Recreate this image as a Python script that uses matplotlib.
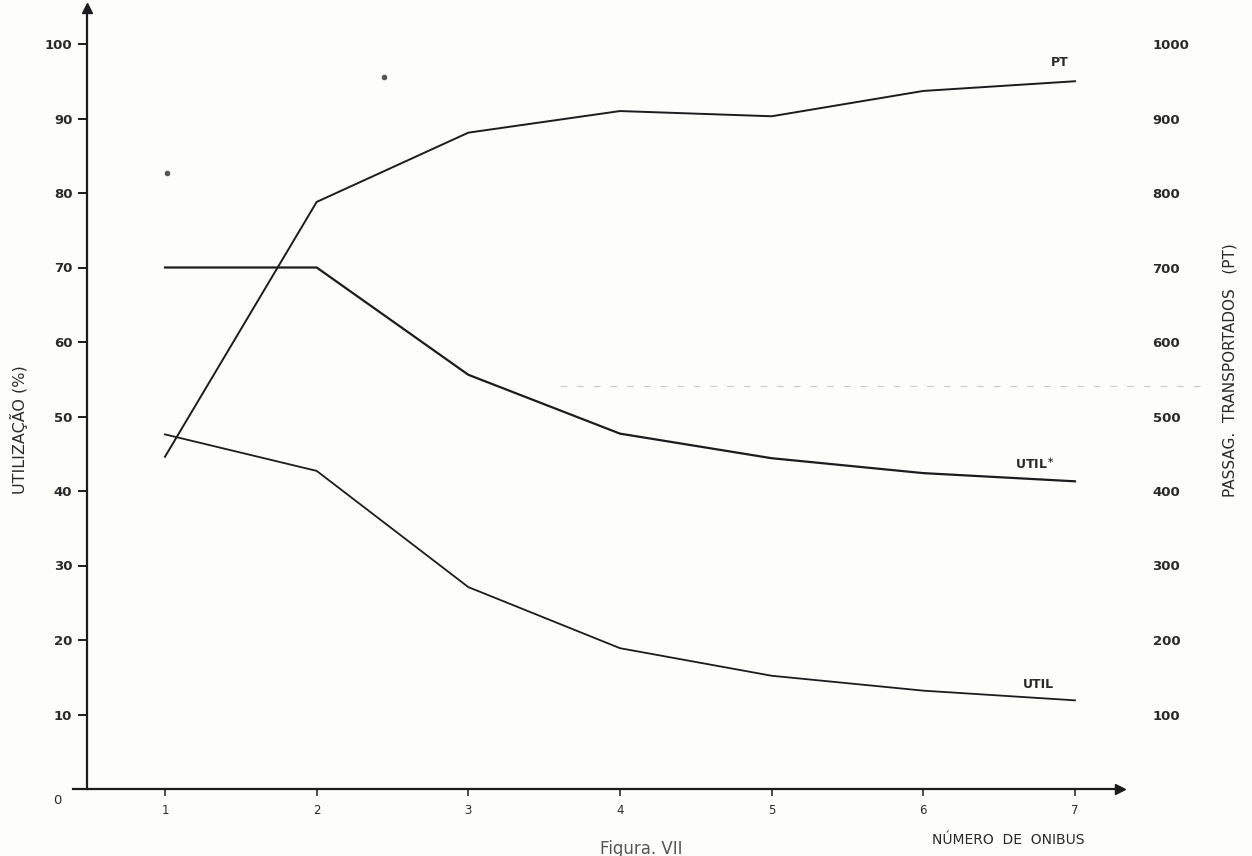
import matplotlib
matplotlib.use("Agg")
import matplotlib.pyplot as plt
from matplotlib.lines import Line2D

# Number of buses on the x axis
onibus = [1, 2, 3, 4, 5, 6, 7]
x_labels = ["1", "2", "3", "4", "5", "6", "7"]

# Utilisation series (%) on the left axis
util_star = [70.0, 70.0, 55.6, 47.7, 44.4, 42.4, 41.3]
util = [47.6, 42.7, 27.1, 18.9, 15.2, 13.2, 11.9]

# Passengers carried (PT) on the right axis
pt = [446, 788, 881, 910, 903, 937, 950]

left_ticks = [10, 20, 30, 40, 50, 60, 70, 80, 90, 100]
left_labels = ["10", "20", "30", "40", "50", "60", "70", "80", "90", "100"]
right_ticks = [100, 200, 300, 400, 500, 600, 700, 800, 900, 1000]
right_labels = ["100", "200", "300", "400", "500", "600", "700", "800", "900", "1000"]

W, H = 1252, 856
INK = "#1c1c1c"
TXT = "#2a2a2a"
PAPER = "#fdfdfa"

fig = plt.figure(figsize=(W / 100, H / 100), dpi=100, facecolor=PAPER)

# axes frame in pixel terms
x0_px, x1_px = 73, 1122
y_bottom_px, y_top_px = 789, 8
ax = fig.add_axes([x0_px / W, (H - y_bottom_px) / H,
                   (x1_px - x0_px) / W, (y_bottom_px - y_top_px) / H])
ax.set_facecolor("none")

px_per_unit = 151.67
xmin = 1 - (165 - x0_px) / px_per_unit
xmax = 7 + (x1_px - 1075) / px_per_unit
ymax = (y_bottom_px - y_top_px) / 7.45
ax.set_xlim(xmin, xmax)
ax.set_ylim(0, ymax)

yaxis_x = 1 - (165 - 87) / px_per_unit

for s in ("top", "right"):
    ax.spines[s].set_visible(False)
ax.spines["left"].set_position(("data", yaxis_x))
ax.spines["left"].set_color(INK)
ax.spines["left"].set_linewidth(1.6)
ax.spines["bottom"].set_color(INK)
ax.spines["bottom"].set_linewidth(1.6)

# arrow heads on both axes
ax.plot([yaxis_x], [ymax], marker="^", ms=7, color=INK, clip_on=False, zorder=5)
ax.plot([xmax - 2 / px_per_unit], [0], marker=">", ms=7, color=INK,
        clip_on=False, zorder=5)

# utilisation curves
ax.plot(onibus, util_star, color=INK, lw=1.6, solid_joinstyle="miter")
ax.plot(onibus, util, color=INK, lw=1.3, solid_joinstyle="miter")

ax.set_xticks(onibus)
ax.set_xticklabels(x_labels)
ax.tick_params(axis="x", direction="out", length=5, width=1.1, pad=6,
               labelsize=8.5, colors=INK, labelcolor=TXT)
ax.set_yticks(left_ticks)
ax.set_yticklabels(left_labels, fontweight="bold")
ax.tick_params(axis="y", direction="out", length=6.5, width=1.4, pad=4,
               labelsize=9.5, colors=INK, labelcolor=TXT)
ax.text(1 - (165 - 57) / px_per_unit, -1.5, "0", ha="center", va="center",
        fontsize=9.5, color=TXT, clip_on=False)

# passengers on a twin axis sharing the bus count
ax2 = ax.twinx()
ax2.set_ylim(0, ymax * 10)
for s in ax2.spines.values():
    s.set_visible(False)
ax2.plot(onibus, pt, color=INK, lw=1.4, solid_joinstyle="miter")
ax2.set_yticks(right_ticks)
ax2.set_yticklabels(right_labels, fontweight="bold")
ax2.tick_params(axis="y", length=0, pad=22, labelsize=9.5, labelcolor=TXT)

# curve names
ax.text(1 + (1060 - 165) / px_per_unit, (789 - 63) / 7.45, "PT",
        ha="center", va="center", fontsize=9, fontweight="bold", color=TXT)
ax.text(1 + (1035 - 165) / px_per_unit, (789 - 464) / 7.45, r"UTIL$^{\ast}$",
        ha="center", va="center", fontsize=9, fontweight="bold", color=TXT)
ax.text(1 + (1038 - 165) / px_per_unit, (789 - 685) / 7.45, "UTIL",
        ha="center", va="center", fontsize=9, fontweight="bold", color=TXT)

# axis titles and caption
fig.text(19 / W, 1 - 430 / H, "UTILIZAÇÃO (%)", rotation=90, ha="center",
         va="center", fontsize=11.5, color=TXT)
fig.text(1230 / W, 1 - 370 / H, "PASSAG.  TRANSPORTADOS   (PT)", rotation=90,
         ha="center", va="center", fontsize=11, color=TXT)
fig.text(1008 / W, 1 - 840 / H, "NÚMERO  DE  ONIBUS", ha="center", va="center",
         fontsize=10, color=TXT)
fig.text(641 / W, 1 - 849 / H, "Figura. VII", ha="center", va="center",
         fontsize=12, color="#555555")

# faint ruled mark and specks on the sheet
fig.add_artist(Line2D([560 / W, 1200 / W], [1 - 386 / H, 1 - 386 / H],
                      ls=(0, (6, 9)), color="#c9c9c9", lw=0.8))
for sx, sy in [(384, 77), (167, 173)]:
    fig.add_artist(Line2D([sx / W], [1 - sy / H], marker="o", ms=3,
                          color="#555555", lw=0))

fig.savefig("out.png", dpi=100, facecolor=PAPER)
